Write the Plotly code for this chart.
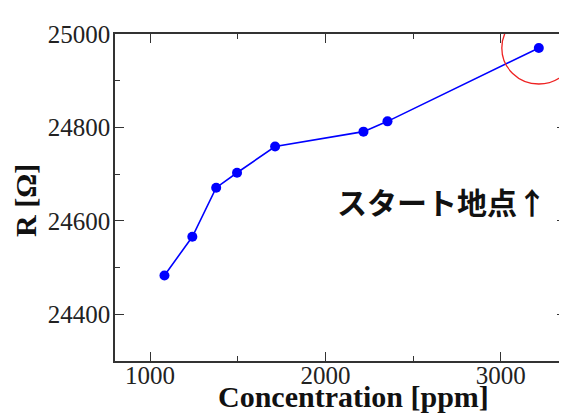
import plotly.graph_objects as go

concentration = [1082, 1241, 1377, 1496, 1713, 2217, 2354, 3217]
resistance = [24483, 24566, 24671, 24703, 24759, 24791, 24813, 24970]
x_ticks = [1000, 2000, 3000]
x_tick_labels = ["1000", "2000", "3000"]
y_ticks = [24400, 24600, 24800, 25000]
y_tick_labels = ["24400", "24600", "24800", "25000"]
start_x, start_y = concentration[-1], resistance[-1]

# page has an 8px body margin; figure sized so that it fills the window
OFF = 8
W, H = 567 - OFF, 413 - OFF
ml, mr, mt, mb = 115 - OFF, 1, 34 - OFF, 52
pw, ph = W - ml - mr, H - mt - mb

def px_x(p):
    return (p - OFF - ml) / pw

def px_y(p):
    return (H - mb - (p - OFF)) / ph

fig = go.Figure()
fig.add_trace(go.Scatter(
    x=concentration, y=resistance, mode="lines+markers",
    line=dict(color="#0000ff", width=1.6),
    marker=dict(color="#0000ff", size=10),
    showlegend=False, cliponaxis=False,
))

axis_common = dict(
    showgrid=False, zeroline=False, showline=True, linecolor="#333333", linewidth=1.5,
    mirror="ticks", ticks="inside", ticklen=9, tickwidth=1.3, tickcolor="#333333",
    tickfont=dict(family="Liberation Serif", size=25, color="#222222"),
    automargin=False,
)
fig.update_xaxes(range=[800, 3372], tickvals=x_ticks, ticktext=x_tick_labels,
                 ticklabelstandoff=-9,
                 minor=dict(dtick=500, ticklen=5, tickwidth=1.3, tickcolor="#333333", ticks="inside"),
                 **axis_common)
fig.update_yaxes(range=[24300, 25000], tickvals=y_ticks, ticktext=y_tick_labels,
                 ticklabelstandoff=-2,
                 minor=dict(dtick=100, ticklen=5, tickwidth=1.3, tickcolor="#333333", ticks="inside"),
                 **axis_common)

fig.add_shape(type="circle", xref="x", yref="y", xsizemode="pixel", ysizemode="pixel",
              xanchor=start_x, yanchor=start_y, x0=-37, x1=37, y0=-36, y1=36,
              line=dict(color="#ee2222", width=1.3))

fig.add_annotation(text="スタート地点↑", xref="paper", yref="paper",
                   x=px_x(442), y=px_y(201), xanchor="center", yanchor="middle",
                   showarrow=False,
                   font=dict(family="Noto Sans CJK JP", size=30, color="#111111", weight="bold"),
                   bgcolor="white")
fig.add_annotation(text="<b>Concentration [ppm]</b>", xref="paper", yref="paper",
                   x=px_x(353), y=px_y(396), xanchor="center", yanchor="middle",
                   showarrow=False,
                   font=dict(family="Liberation Serif", size=30, color="#111111"))
fig.add_annotation(text="<b>R [Ω]</b>", xref="paper", yref="paper",
                   x=px_x(25), y=px_y(201), xanchor="center", yanchor="middle",
                   showarrow=False, textangle=-90,
                   font=dict(family="Liberation Serif", size=30, color="#111111"))

fig.update_layout(width=W, height=H, margin=dict(l=ml, r=mr, t=mt, b=mb),
                  paper_bgcolor="white", plot_bgcolor="white")
fig.write_html("out.html")
